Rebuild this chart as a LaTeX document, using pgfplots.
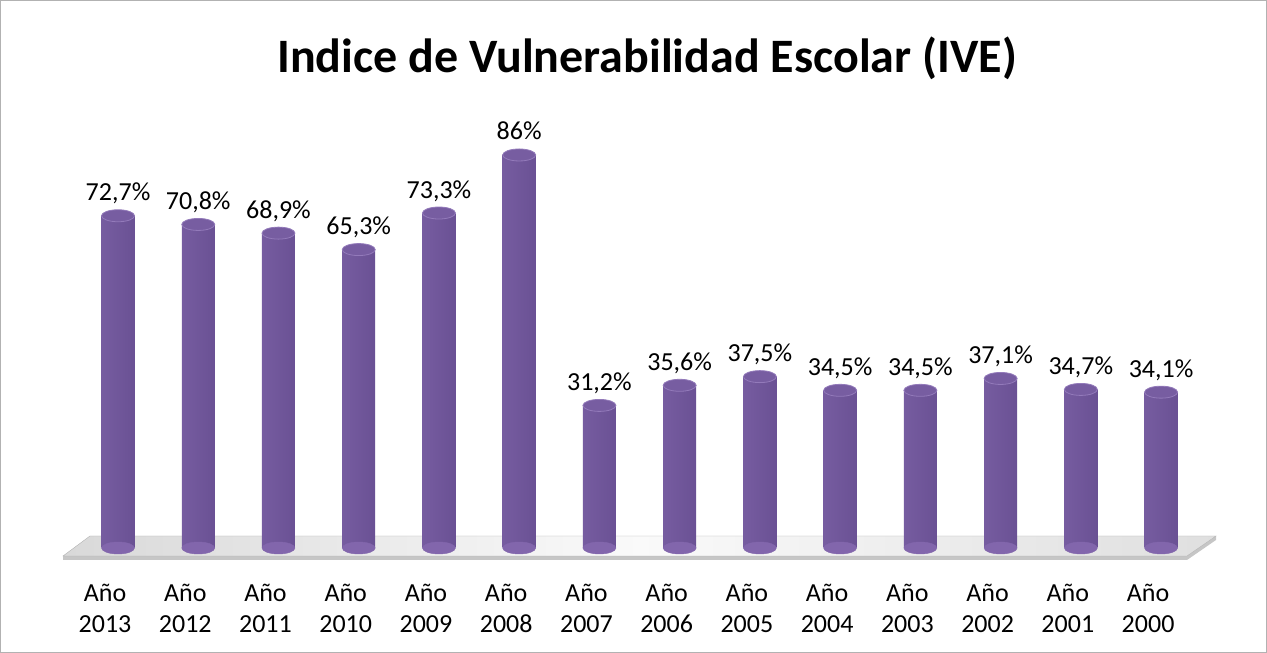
\documentclass[border=0pt]{standalone}
\usepackage{pgfplots}
\pgfplotsset{compat=1.18}
\usepackage{fontspec}
\setmainfont{Carlito}
\definecolor{barL}{HTML}{765CA0}
\definecolor{barM}{HTML}{977CBF}
\definecolor{barR}{HTML}{6A5194}
\definecolor{botC}{HTML}{8266AC}
\definecolor{topC}{HTML}{775DA1}
\definecolor{rimC}{HTML}{937ABA}
\pgfdeclareplotmark{cyl}{\pgfpathellipse{\pgfpointorigin}{\pgfqpoint{16.5pt}{0pt}}{\pgfqpoint{0pt}{6pt}}\pgfusepathqfillstroke}
\pgfplotsset{cylbar/.style={ybar, bar width=33pt, bar shift=0pt, draw=none, left color=barL, middle color=barM, right color=barR, forget plot}}
\begin{document}
\begin{tikzpicture}[x=1pt,y=1pt]
\useasboundingbox (0,0) rectangle (1267,653);
\draw[color=gray!60, line width=1.2pt] (0.6,0.6) rectangle (1266.4,652.4);
\node[anchor=base, font=\bfseries\fontsize{48}{56}\selectfont] at (647,580) {Indice de Vulnerabilidad Escolar (IVE)};
% floor slab
\fill[gray!45] (63,97) -- (1187,97) -- (1187,93) -- (63,93) -- cycle;
\fill[gray!45] (1187,97) -- (1216,117) -- (1216,113) -- (1187,93) -- cycle;
\shade[left color=gray!30, right color=gray!25, middle color=gray!4, draw=gray!60] (63,97) -- (90,117) -- (1216,117) -- (1187,97) -- cycle;
\begin{axis}[
  at={(77.9pt,105pt)}, anchor=south west, scale only axis,
  width=1123.3pt, height=457pt,
  xmin=-0.5, xmax=13.5, ymin=0, ymax=100,
  clip=false,
  axis line style={draw=none}, major tick length=0pt,
  ytick=\empty,
  xtick={0,...,13},
  xticklabels={{Año\\2013},{Año\\2012},{Año\\2011},{Año\\2010},{Año\\2009},{Año\\2008},{Año\\2007},{Año\\2006},{Año\\2005},{Año\\2004},{Año\\2003},{Año\\2002},{Año\\2001},{Año\\2000}},
  xticklabel style={align=center, font=\fontsize{26}{31}\selectfont, xshift=-13pt, yshift=-33pt},
  /pgf/number format/.cd, use comma, fixed, precision=1, assume math mode=true,
]
\addplot[only marks, mark=cyl, mark options={fill=botC, draw=botC}] coordinates {
(0,0) (1,0) (2,0) (3,0) (4,0) (5,0) (6,0) (7,0) (8,0) (9,0) (10,0) (11,0) (12,0) (13,0)};
\addplot[cylbar] coordinates {(0,72.7)};
\addplot[cylbar] coordinates {(1,70.8)};
\addplot[cylbar] coordinates {(2,68.9)};
\addplot[cylbar] coordinates {(3,65.3)};
\addplot[cylbar] coordinates {(4,73.3)};
\addplot[cylbar] coordinates {(5,86)};
\addplot[cylbar] coordinates {(6,31.2)};
\addplot[cylbar] coordinates {(7,35.6)};
\addplot[cylbar] coordinates {(8,37.5)};
\addplot[cylbar] coordinates {(9,34.5)};
\addplot[cylbar] coordinates {(10,34.5)};
\addplot[cylbar] coordinates {(11,37.1)};
\addplot[cylbar] coordinates {(12,34.7)};
\addplot[cylbar] coordinates {(13,34.1)};
\addplot[only marks, mark=cyl, mark options={fill=topC, draw=rimC, line width=0.8pt},
  point meta=y,
  nodes near coords={\fontsize{26}{31}\selectfont\pgfmathprintnumber{\pgfplotspointmeta}\%},
  every node near coord/.append style={anchor=base, yshift=15pt, text=black}] coordinates {
(0,72.7) (1,70.8) (2,68.9) (3,65.3) (4,73.3) (5,86) (6,31.2) (7,35.6) (8,37.5) (9,34.5) (10,34.5) (11,37.1) (12,34.7) (13,34.1)};
\end{axis}
\end{tikzpicture}
\end{document}
